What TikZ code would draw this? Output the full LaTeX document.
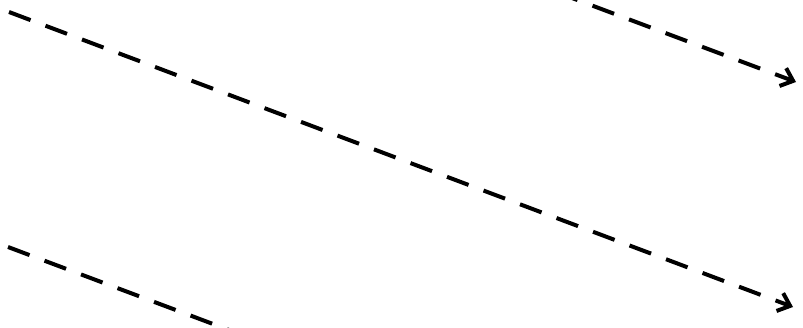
\documentclass[tikz,border=0pt]{standalone}
\usepackage{tikz}
\usetikzlibrary{arrows.meta}
\tikzset{
  flow/.style={line width=4pt, dash pattern=on 23pt off 16pt, draw=black},
  flowarrow/.style={flow, -{Straight Barb[length=11pt, width=19pt, line width=4pt]}}
}

\begin{document}
\begin{tikzpicture}[x=1pt, y=-1pt]
  \fill[white] (0,0) rectangle (803,327);
  \useasboundingbox (0,0) rectangle (803,327);
  \clip (0,0) rectangle (803,327);

  \coordinate (longstart) at (9,12);
  \coordinate (longend) at (793,307);
  \coordinate (topstart) at (556,-8);
  \coordinate (topend) at (796,82);
  \coordinate (lowstart) at (8,247);
  \coordinate (lowend) at (245,336);

  \draw[flowarrow] (longstart) -- (longend);
  \draw[flowarrow] (topstart) -- (topend);
  \draw[flow] (lowstart) -- (lowend);
\end{tikzpicture}
\end{document}
